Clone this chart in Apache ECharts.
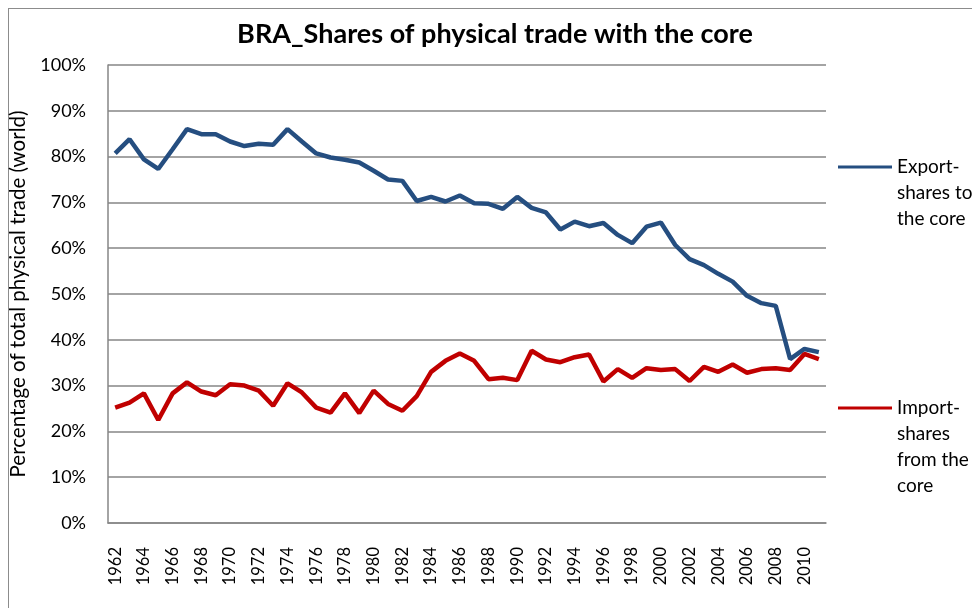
<!DOCTYPE html>
<html>
<head>
<meta charset="utf-8">
<script src="https://cdn.jsdelivr.net/npm/echarts@6/dist/echarts.min.js"></script>
<style>
  html, body { margin: 0; padding: 0; background: #fff; overflow: hidden; }
  #frame { position: absolute; left: 8px; top: 8px; width: 1000px; height: 700px; border: 1px solid #8c8c8c; }
  #chart { position: absolute; left: 0; top: 0; width: 972px; height: 608px; }
</style>
</head>
<body>
<div id="frame"></div>
<div id="chart"></div>
<script>
// years 1962..2011
const years = [
  "1962", "1963", "1964", "1965", "1966", "1967", "1968", "1969", "1970", "1971",
  "1972", "1973", "1974", "1975", "1976", "1977", "1978", "1979", "1980", "1981",
  "1982", "1983", "1984", "1985", "1986", "1987", "1988", "1989", "1990", "1991",
  "1992", "1993", "1994", "1995", "1996", "1997", "1998", "1999", "2000", "2001",
  "2002", "2003", "2004", "2005", "2006", "2007", "2008", "2009", "2010", "2011"
];

// percent of total physical trade (world)
const exportShares = [
  80.7, 83.8, 79.4, 77.3, 81.6, 86.0, 84.9, 84.9, 83.3, 82.3,
  82.8, 82.6, 86.0, 83.3, 80.7, 79.8, 79.3, 78.7, 76.9, 75.0,
  74.7, 70.3, 71.2, 70.2, 71.5, 69.8, 69.7, 68.6, 71.2, 68.8,
  67.8, 64.1, 65.8, 64.8, 65.5, 62.9, 61.1, 64.7, 65.6, 60.7,
  57.6, 56.3, 54.4, 52.7, 49.6, 48.0, 47.4, 35.8, 38.0, 37.3
];

const importShares = [
  25.2, 26.3, 28.3, 22.5, 28.3, 30.7, 28.7, 27.9, 30.3, 30.0,
  28.9, 25.6, 30.5, 28.5, 25.2, 24.1, 28.3, 24.0, 28.9, 26.0,
  24.5, 27.7, 33.0, 35.4, 37.0, 35.4, 31.4, 31.7, 31.2, 37.6,
  35.7, 35.1, 36.2, 36.8, 30.9, 33.6, 31.7, 33.8, 33.4, 33.6,
  31.0, 34.1, 33.0, 34.6, 32.8, 33.6, 33.8, 33.4, 36.9, 35.8
];

const exportName = "Export-shares to the core";
const importName = "Import-shares from the core";

const chart = echarts.init(document.getElementById("chart"));

// legend text is centred on its icon, so blank lines above push the first line onto the line
const legendText = {
  fontFamily: "Lato",
  fontSize: 19,
  color: "#000",
  lineHeight: 26
};

chart.setOption({
  animation: false,
  title: {
    text: "BRA_Shares of physical trade with the core",
    left: 490,
    textAlign: "center",
    top: 16,
    textStyle: {
      fontFamily: "Lato",
      fontWeight: "bold",
      fontSize: 27,
      color: "#000"
    }
  },
  legend: [
    {
      left: 833,
      top: 97,
      orient: "vertical",
      icon: "rect",
      itemWidth: 54,
      itemHeight: 3,
      itemGap: 0,
      data: [exportName],
      formatter: () => " \n \nExport-\nshares to\nthe core",
      textStyle: legendText
    },
    {
      left: 833,
      top: 312,
      orient: "vertical",
      icon: "rect",
      itemWidth: 54,
      itemHeight: 3,
      itemGap: 0,
      data: [importName],
      formatter: () => " \n \n \nImport-\nshares\nfrom the\ncore",
      textStyle: legendText
    }
  ],
  grid: {
    left: 108,
    top: 65,
    right: 146,
    bottom: 85,
    containLabel: false
  },
  xAxis: {
    type: "category",
    data: years,
    boundaryGap: true,
    axisLine: { lineStyle: { color: "#868686", width: 1.5 } },
    axisTick: { show: false },
    axisLabel: {
      interval: 1,
      rotate: 90,
      margin: 24,
      fontFamily: "Lato",
      fontSize: 16.5,
      color: "#000"
    }
  },
  yAxis: {
    type: "value",
    min: 0,
    max: 100,
    interval: 10,
    name: "Percentage of total physical trade (world)",
    nameLocation: "middle",
    nameGap: 64,
    nameTextStyle: {
      fontFamily: "Lato",
      fontSize: 20.5,
      color: "#000"
    },
    axisLine: { show: true, lineStyle: { color: "#868686", width: 1.5 } },
    axisTick: { show: false },
    axisLabel: {
      formatter: "{value}%",
      margin: 22,
      fontFamily: "Lato",
      fontSize: 18,
      color: "#000"
    },
    splitLine: { lineStyle: { color: "#868686", width: 1.5 } }
  },
  series: [
    {
      name: exportName,
      type: "line",
      data: exportShares,
      symbol: "none",
      color: "#254E80",
      lineStyle: { width: 4.5, color: "#254E80" }
    },
    {
      name: importName,
      type: "line",
      data: importShares,
      symbol: "none",
      color: "#C00000",
      lineStyle: { width: 4.5, color: "#C00000" }
    }
  ]
});
</script>
</body>
</html>
